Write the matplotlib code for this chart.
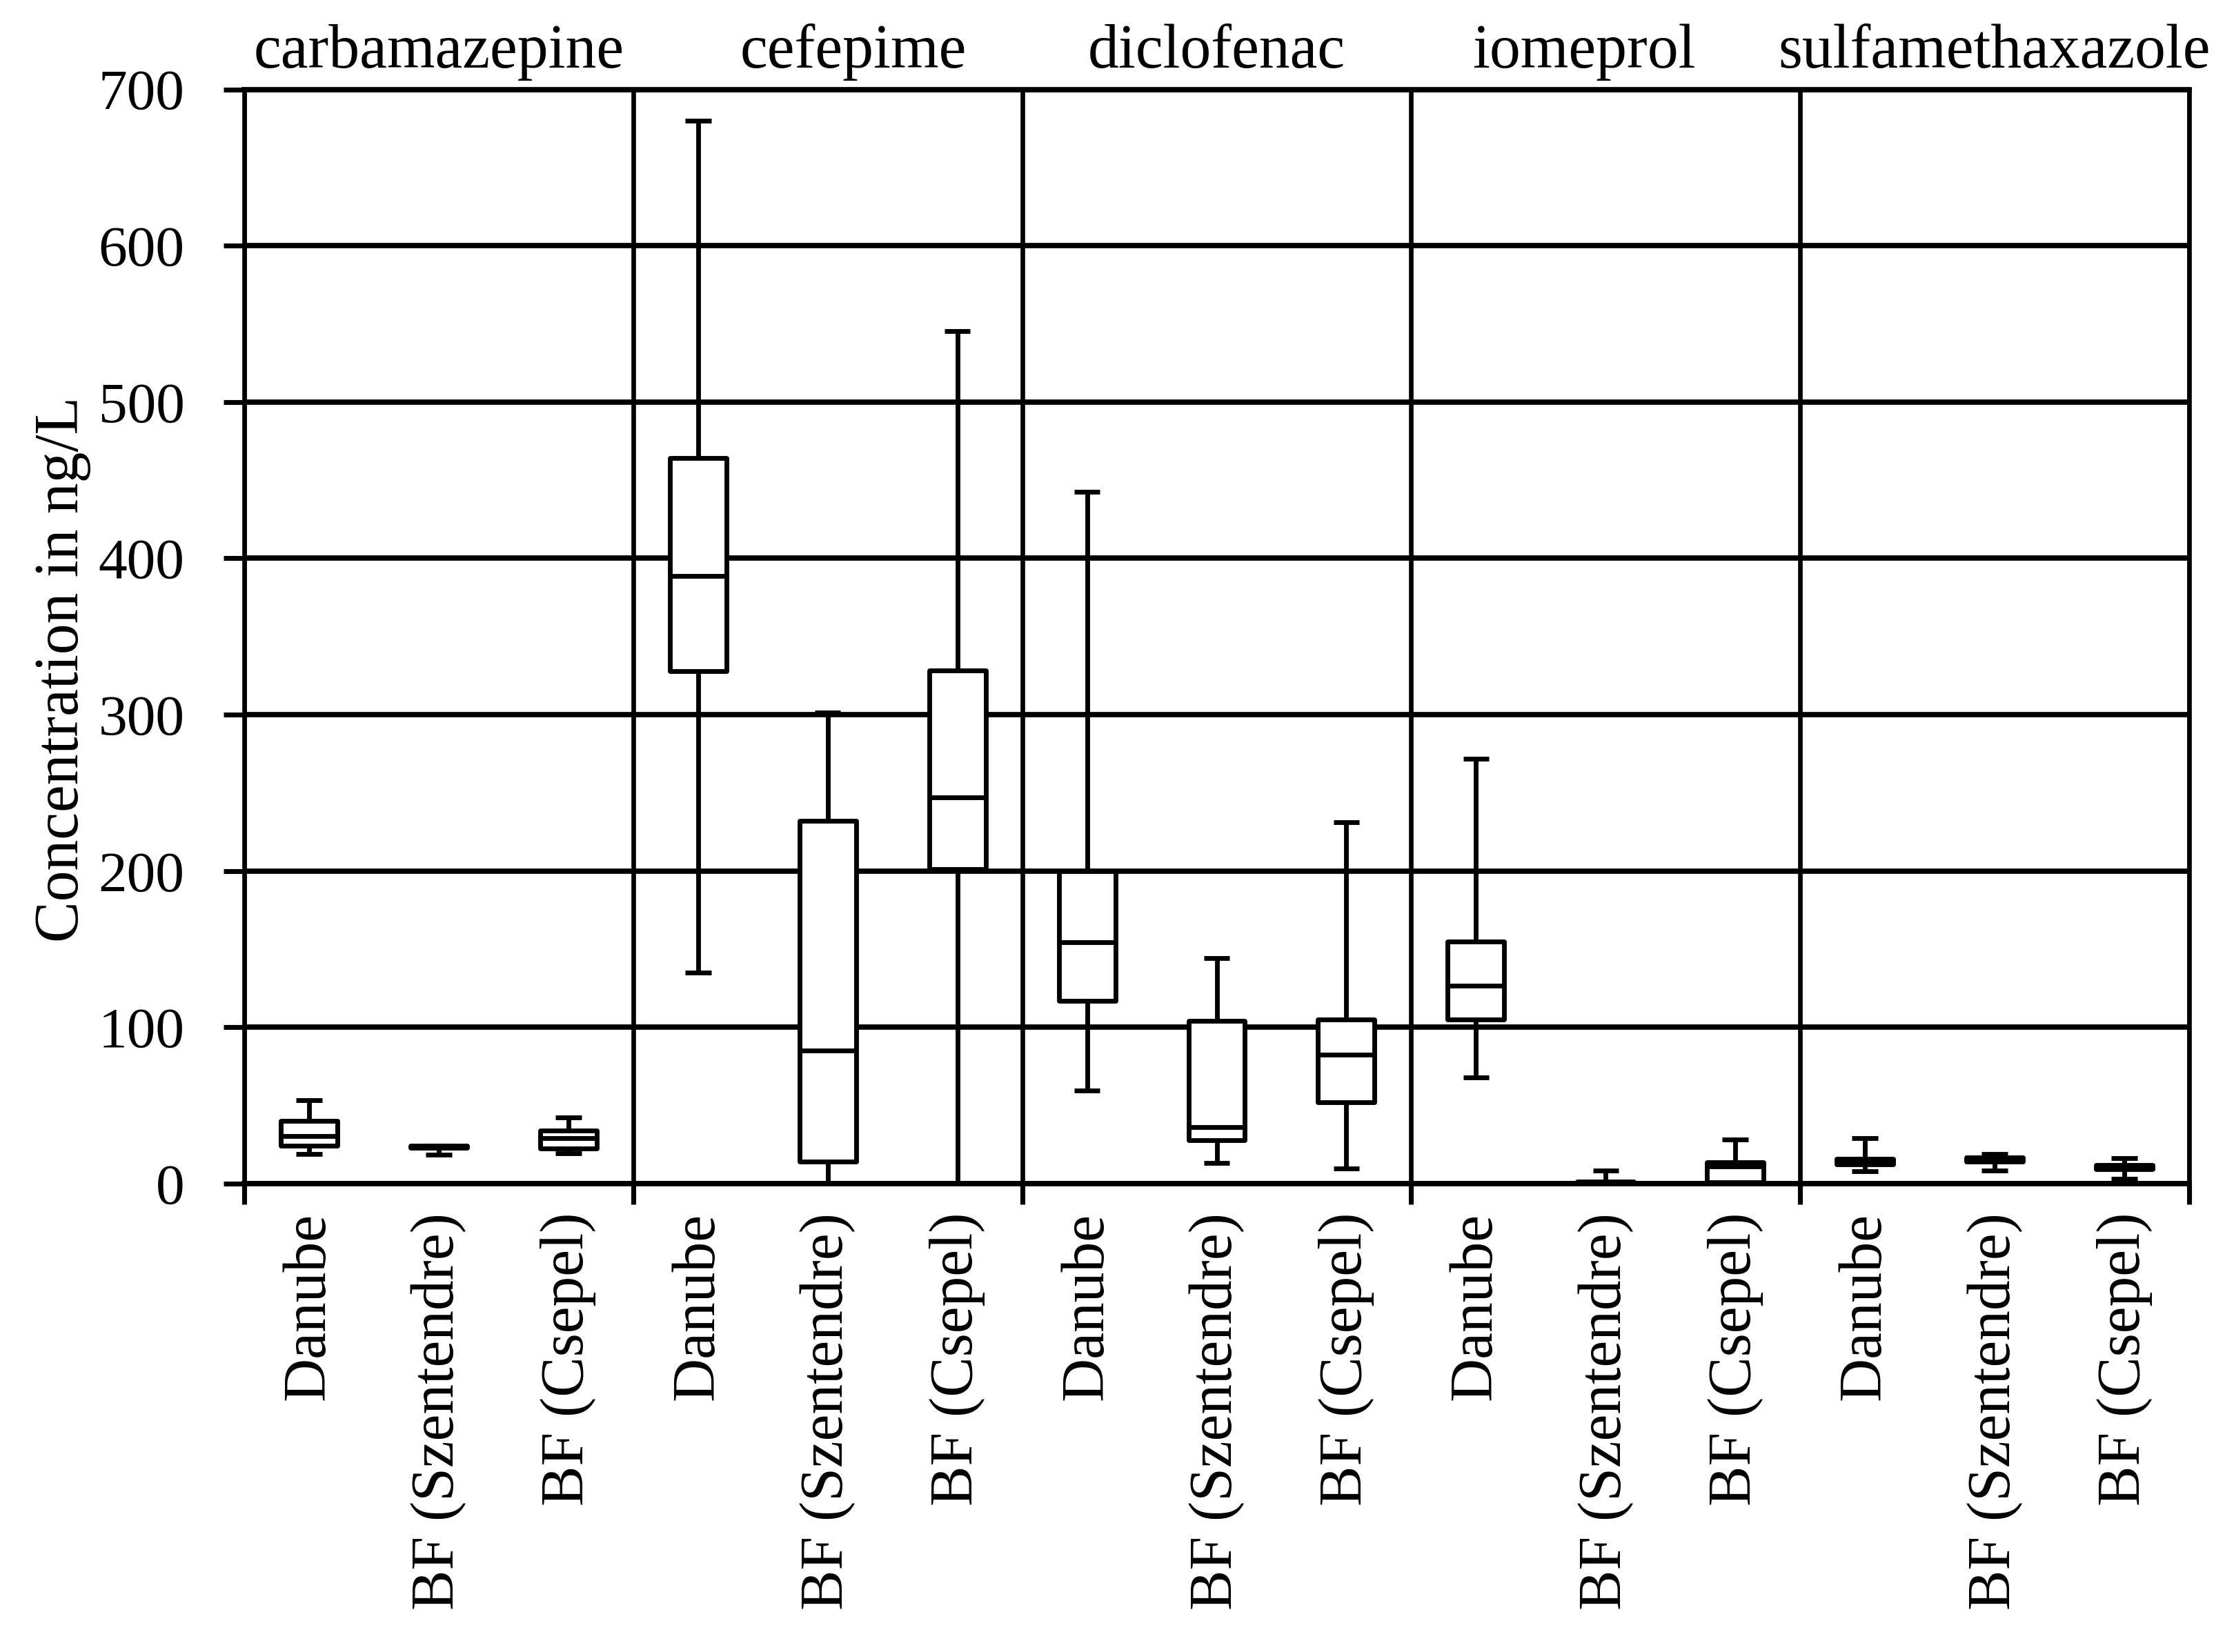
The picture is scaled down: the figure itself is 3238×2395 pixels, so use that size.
import matplotlib
matplotlib.use("Agg")
import matplotlib.pyplot as plt
from matplotlib.ticker import FixedLocator, NullFormatter, FixedFormatter

plt.rcParams['font.family'] = ['Liberation Serif', 'DejaVu Serif']

compounds = ["carbamazepine", "cefepime", "diclofenac", "iomeprol", "sulfamethaxazole"]
sites = ["Danube", "BF (Szentendre)", "BF (Csepel)"]

# order: compound-major, site-minor
whislo = [18.8, 18.5, 19.6,
          135.0, 0.0, 0.0,
          59.4, 13.2, 9.9,
          68.1, 0.0, 0.0,
          7.9, 8.3, 3.1]
q1 = [24.4, 23.0, 22.5,
      328.0, 14.2, 201.0,
      116.8, 28.0, 52.2,
      105.0, 0.0, 1.0,
      12.2, 14.0, 9.1]
med = [30.3, 23.7, 29.3,
       388.6, 85.0, 247.0,
       154.4, 36.3, 82.4,
       126.5, 0.8, 11.1,
       13.5, 15.0, 10.5]
q3 = [40.1, 24.4, 33.9,
      464.0, 232.0, 328.4,
      200.0, 104.3, 104.8,
      155.0, 1.5, 13.8,
      15.8, 16.8, 12.0]
whishi = [53.4, 24.4, 42.5,
          680.0, 301.5, 545.5,
          442.6, 144.4, 231.3,
          272.0, 8.4, 28.4,
          29.1, 19.1, 16.2]

yticks = [0, 100, 200, 300, 400, 500, 600, 700]

W, H = 3238, 2395
DPI = 300
fig = plt.figure(figsize=(W / DPI, H / DPI), dpi=DPI)
ax = fig.add_axes([354 / W, 1 - 1716 / H, (3173 - 354) / W, (1716 - 129.5) / H])

LW = 1.65
stats = []
positions = []
for i in range(len(med)):
    stats.append(dict(med=med[i], q1=q1[i], q3=q3[i], whislo=whislo[i], whishi=whishi[i],
                      fliers=[]))
    positions.append(i + 0.5)

ax.bxp(stats, positions=positions, widths=0.436, capwidths=0.20, showfliers=False,
       patch_artist=True,
       boxprops=dict(facecolor='white', edgecolor='black', linewidth=LW, joinstyle='round'),
       medianprops=dict(color='black', linewidth=LW, solid_capstyle='butt'),
       whiskerprops=dict(color='black', linewidth=LW, solid_capstyle='butt'),
       capprops=dict(color='black', linewidth=LW, solid_capstyle='butt'),
       zorder=3)

n = len(med)
ax.set_xlim(0, n)
ax.set_ylim(0, 700)
ax.set_axisbelow(True)

ax.yaxis.set_major_locator(FixedLocator(yticks))
ax.set_yticklabels([str(v) for v in yticks])
ax.xaxis.set_major_locator(FixedLocator(list(range(0, n + 1, 3))))
ax.xaxis.set_major_formatter(NullFormatter())
ax.xaxis.set_minor_locator(FixedLocator(positions))
ax.xaxis.set_minor_formatter(FixedFormatter([s for c in compounds for s in sites]))

ax.grid(True, which='major', axis='y', color='black', linewidth=1.85)
ax.grid(True, which='major', axis='x', color='black', linewidth=1.6)
ax.tick_params(axis='both', which='major', direction='out', length=7.2, width=1.7,
               color='black', labelsize=20)
ax.tick_params(axis='y', which='major', pad=13.5)
ax.tick_params(axis='x', which='minor', length=0, pad=10, labelsize=21)
for lab in ax.xaxis.get_minorticklabels():
    lab.set_rotation(90)
    lab.set_va('top')
    lab.set_ha('center')

for name, sp in ax.spines.items():
    sp.set_linewidth(1.85 if name in ('top', 'bottom') else 1.6)
    sp.set_color('black')

title_shift = [0, 9, 0, -7.5, 0]  # points, horizontal placement tweak
for k, c in enumerate(compounds):
    ax.annotate(c, xy=(3 * k + 1.5, 700), xycoords='data', xytext=(title_shift[k], 7.5),
                textcoords='offset points', ha='center', va='baseline',
                fontsize=21.5, annotation_clip=False)

ax.text(-0.0933, 0.47, "Concentration in ng/L", transform=ax.transAxes,
        rotation=90, ha='center', va='center', fontsize=21.5)

fig.savefig("out.png", dpi=DPI, facecolor='white')
